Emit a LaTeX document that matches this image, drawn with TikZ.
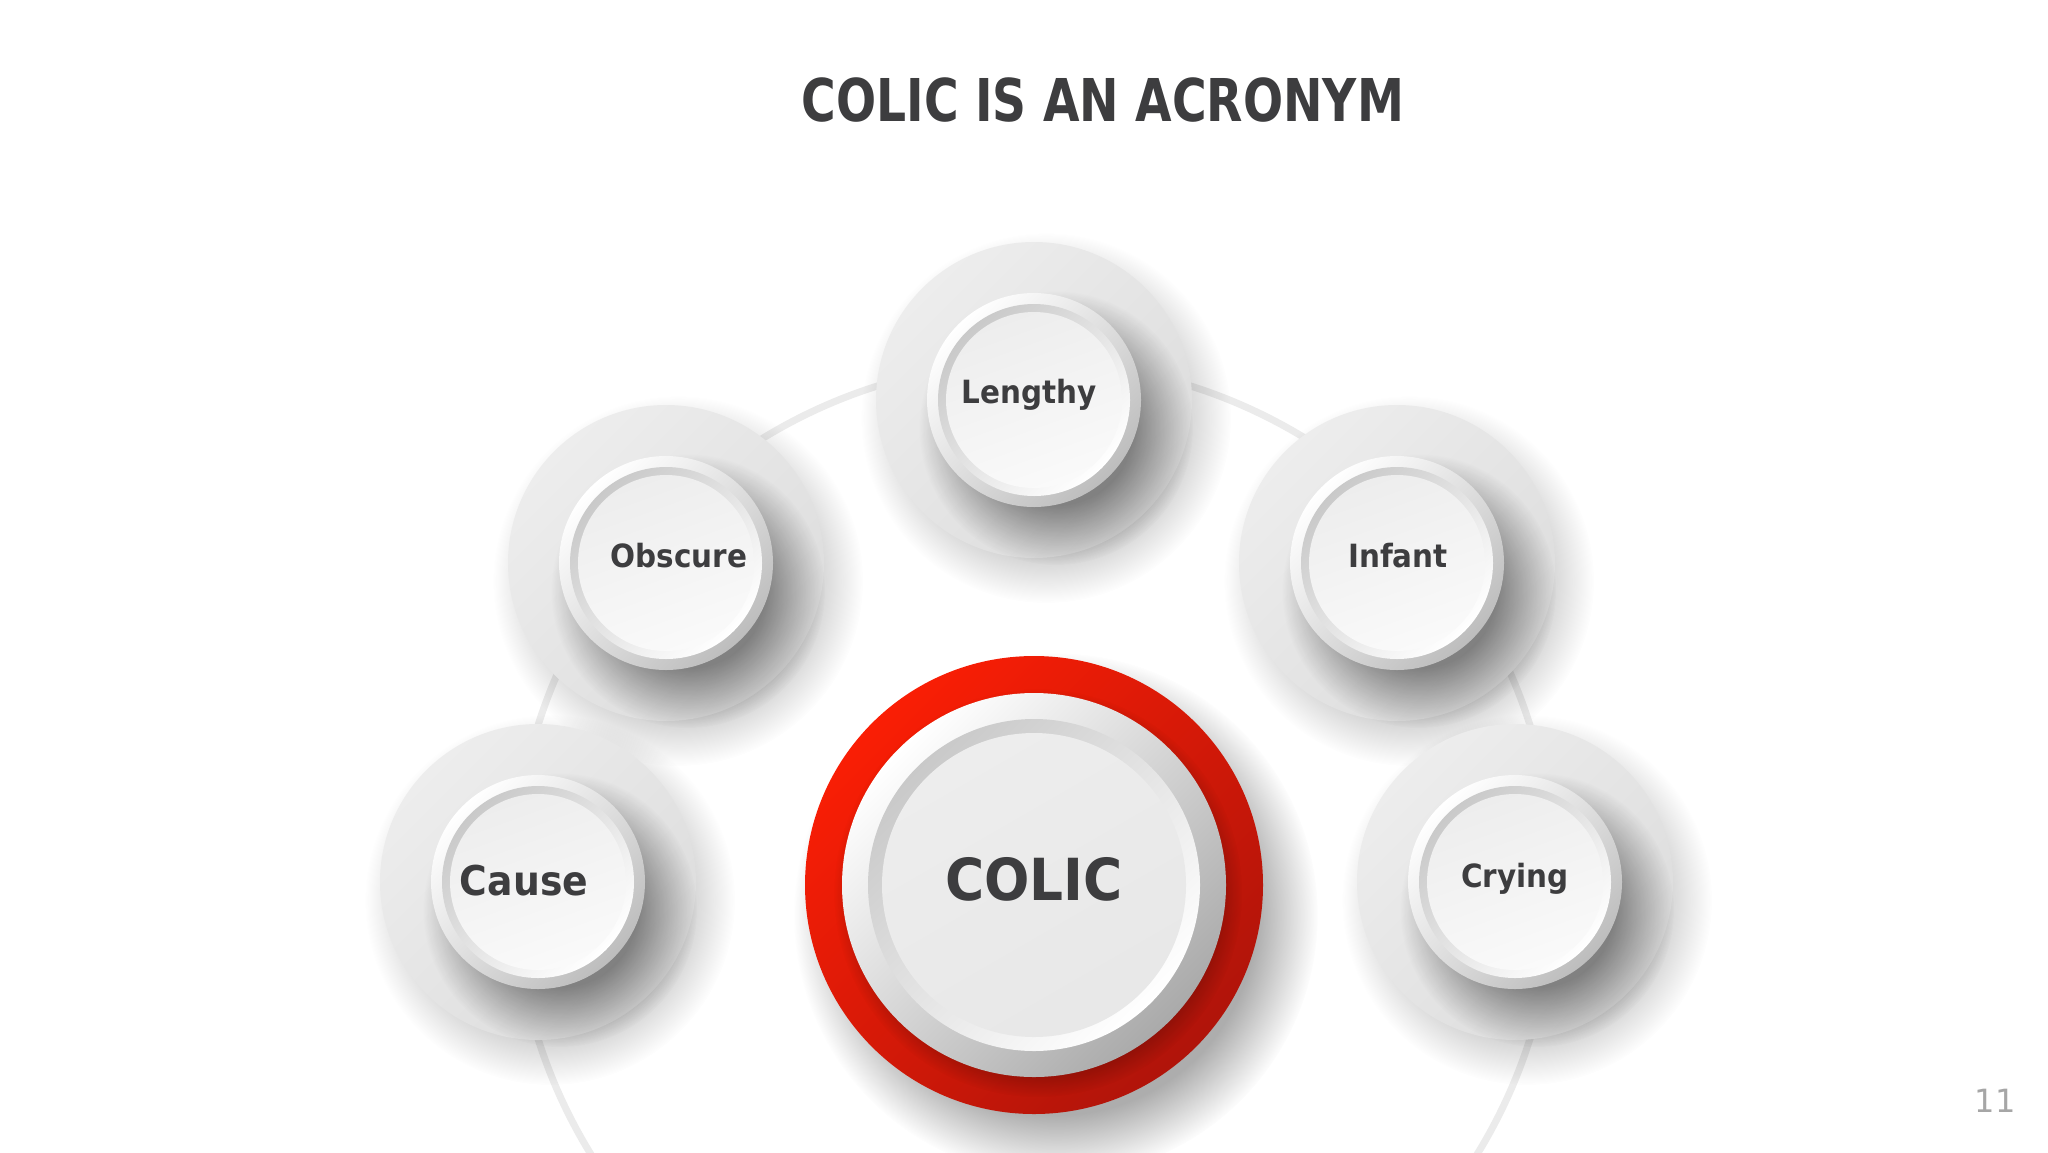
\documentclass[tikz,border=0pt]{standalone}
\usepackage{fontspec}
\setmainfont{DejaVu Sans}
\newfontfamily\lblfont{DejaVu Sans}[FakeStretch=0.92]
\newfontfamily\ttlfont{DejaVu Sans}[FakeStretch=0.80]
\usetikzlibrary{fadings}
\definecolor{txt}{HTML}{3D3D3F}
\definecolor{arcc}{HTML}{EBEBEB}
\definecolor{discA}{HTML}{EDEDED}
\definecolor{discB}{HTML}{DCDCDC}
\definecolor{ringA}{HTML}{BDBDBD}
\definecolor{ringB}{HTML}{C9C9C9}
\definecolor{capA}{HTML}{EDEDED}
\definecolor{capB}{HTML}{FAFAFA}
\definecolor{redA}{HTML}{FA1E05}
\definecolor{redB}{HTML}{B0140A}
\definecolor{pgnum}{HTML}{A6A6A6}
% soft radial fadings: opaque up to #2 (of 25bp), transparent at 25bp
\newcommand{\mkfade}[2]{%
  \pgfdeclareradialshading{sh#1}{\pgfpointorigin}{%
    color(0bp)=(pgftransparent!0); color(#2bp)=(pgftransparent!0);
    color(25bp)=(pgftransparent!100); color(50bp)=(pgftransparent!100)}%
  \pgfdeclarefading{#1}{\pgfuseshading{sh#1}}}
\mkfade{fadeOuter}{17}
\mkfade{fadeBtn}{14}
\mkfade{fadeRed}{19}
\mkfade{fadeWhite}{22}
\tikzset{
  lbl/.style={text=txt, anchor=base, inner sep=0pt,
    font=\lblfont\bfseries\fontsize{16pt}{16pt}\selectfont},
}
\newcommand{\mybutton}[2]{%
  \fill[black, opacity=0.22, path fading=fadeOuter] ([shift={(12,-18)}]#1,#2) circle (185);
  \shade[top color=discA, bottom color=discB, shading angle=45] (#1,#2) circle (158);
  \fill[black, opacity=0.42, path fading=fadeBtn] ([shift={(22,-28)}]#1,#2) circle (137);
  \shade[top color=white, bottom color=ringA, shading angle=45] (#1,#2) circle (107);
  \shade[top color=ringB, bottom color=white, shading angle=45] (#1,#2) circle (96);
  \shade[top color=capA, bottom color=capB, shading angle=20] (#1,#2) circle (88);
}
\begin{document}
\begin{tikzpicture}[x=0.5pt,y=0.5pt]
\fill[white] (0,0) rectangle (2048,-1152);
\clip (0,0) rectangle (2048,-1152);
% ring behind the circles
\coordinate (ringc) at (1034,-882);
\draw[arcc, line width=3.5pt] (ringc) circle (520);
% small buttons
\mybutton{1034}{-400}
\mybutton{666}{-563}
\mybutton{1397}{-563}
\mybutton{538}{-882}
\mybutton{1515}{-882}
% central button
\fill[black, opacity=0.32, path fading=fadeRed] (1056,-915) circle (262);
\shade[top color=redA, bottom color=redB, shading angle=45] (1034,-885) circle (229);
\fill[black, opacity=0.22, path fading=fadeWhite] (1038,-893) circle (204);
\shade[top color=white, bottom color=ringA!90!black, shading angle=45] (1034,-885) circle (192);
\shade[top color=ringB, bottom color=white, shading angle=45] (1034,-885) circle (166);
\shade[top color=capA, bottom color=capB!85!gray, shading angle=30] (1034,-885) circle (152);
% texts
\node[anchor=base, inner sep=0pt, text=txt,
  font=\ttlfont\bfseries\fontsize{29.5pt}{30pt}\selectfont] (title) at (1103,-121) {COLIC IS AN ACRONYM};
\node[lbl] (tlen) at (1029,-403) {Lengthy};
\node[lbl] (tobs) at (679,-567) {Obscure};
\node[lbl] (tinf) at (1398,-567) {Infant};
\node[lbl, font=\lblfont\bfseries\fontsize{20.5pt}{21pt}\selectfont] (tcau) at (524,-895) {Cause};
\node[lbl] (tcry) at (1515,-887) {Crying};
\node[lbl, font=\lblfont\bfseries\fontsize{29pt}{29pt}\selectfont] (tcol) at (1034,-900) {COLIC};
\node[anchor=base, inner sep=0pt, text=pgnum, font=\fontsize{16pt}{16pt}\selectfont] (pg) at (1995,-1112) {11};
\end{tikzpicture}
\end{document}
